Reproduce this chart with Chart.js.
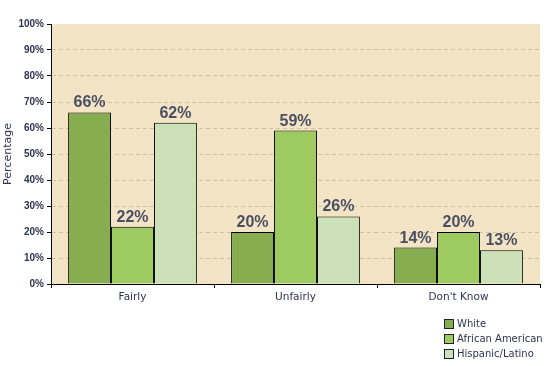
<!DOCTYPE html>
<html>
<head>
<meta charset="utf-8">
<script src="https://cdn.jsdelivr.net/npm/chart.js@4/dist/chart.umd.min.js"></script>
<style>
html,body{margin:0;padding:0;background:#fff;}
#wrap{position:relative;width:545px;height:366px;}
#legend{position:absolute;left:444px;top:316px;font-family:"DejaVu Sans",Verdana,sans-serif;font-size:10px;color:#2e3450;}
#legend .it{display:flex;align-items:center;height:15px;}
#legend .bx{width:8px;height:8px;border:1px solid #1e2230;margin-right:3px;box-sizing:content-box;}
</style>
</head>
<body>
<div id="wrap">
<canvas id="c" width="545" height="366"></canvas>
<div id="legend"></div>
</div>
<script>
const categories = ["Fairly", "Unfairly", "Don't Know"];
const seriesNames = ["White", "African American", "Hispanic/Latino"];
const white = [66, 20, 14];
const africanAmerican = [22, 59, 20];
const hispanicLatino = [62, 26, 13];
const yTicks = [0, 10, 20, 30, 40, 50, 60, 70, 80, 90, 100];
const colors = ["#86ad50", "#9ecb5f", "#cde1b8"];

const seriesValues = [white, africanAmerican, hispanicLatino];
const FONT = '"DejaVu Sans", Verdana, sans-serif';
const ARIAL = '"Liberation Sans", Arial, sans-serif';

const bgPlugin = {
  id: 'bg',
  beforeDraw(chart) {
    const a = chart.chartArea, ctx = chart.ctx;
    ctx.save();
    ctx.fillStyle = '#f2e4c5';
    ctx.fillRect(a.left, a.top, a.right - a.left, a.bottom - a.top);
    ctx.restore();
  }
};
const labelPlugin = {
  id: 'vals',
  afterDatasetsDraw(chart) {
    const ctx = chart.ctx;
    ctx.save();
    ctx.font = 'bold 16px ' + ARIAL;
    ctx.fillStyle = '#4b4f62';
    ctx.textAlign = 'center';
    ctx.textBaseline = 'alphabetic';
    chart.data.datasets.forEach((ds, i) => {
      chart.getDatasetMeta(i).data.forEach((bar, j) => {
        ctx.fillText(ds.data[j] + '%', bar.x, bar.y - 5);
      });
    });
    ctx.restore();
  }
};

new Chart(document.getElementById('c'), {
  type: 'bar',
  data: {
    labels: categories,
    datasets: seriesNames.map((n, i) => ({
      label: n,
      data: seriesValues[i],
      backgroundColor: colors[i],
      borderColor: '#000',
      borderWidth: 1,
      categoryPercentage: 0.79,
      barPercentage: 1.0
    }))
  },
  options: {
    responsive: false,
    animation: false,
    layout: { padding: { left: 0, right: 5, top: 24, bottom: 0 } },
    plugins: { legend: { display: false }, tooltip: { enabled: false } },
    scales: {
      x: {
        afterFit(s) { s.height = 82; },
        grid: { display: true, drawOnChartArea: false, drawTicks: true, tickLength: 4, tickColor: '#000', offset: true },
        border: { display: true, color: '#000', width: 1 },
        ticks: { font: { family: FONT, size: 10.5 }, color: '#2e3450', padding: 3 }
      },
      y: {
        min: 0, max: 100,
        afterFit(s) { s.width = 51; },
        afterBuildTicks(s) { s.ticks = yTicks.map(v => ({ value: v })); },
        grid: {
          color: (c) => (c.tick && (c.tick.value === 0 || c.tick.value === 100)) ? 'rgba(0,0,0,0)' : '#cfc3a3',
          tickColor: '#000', tickLength: 4, tickBorderDash: [], lineWidth: 1
        },
        border: { display: true, color: '#000', width: 1, dash: [4, 3] },
        ticks: { font: { family: ARIAL, size: 10, weight: 'bold' }, color: '#2e3450', padding: 3, callback: v => v + '%' },
        title: { display: true, text: 'Percentage', font: { family: FONT, size: 11 }, color: '#2e3450', padding: { top: 2, bottom: 0 } }
      }
    }
  },
  plugins: [bgPlugin, labelPlugin]
});

const lg = document.getElementById('legend');
seriesNames.forEach((n, i) => {
  const d = document.createElement('div'); d.className = 'it';
  const b = document.createElement('span'); b.className = 'bx'; b.style.background = colors[i];
  const t = document.createElement('span'); t.textContent = n;
  d.appendChild(b); d.appendChild(t); lg.appendChild(d);
});
</script>
</body>
</html>
